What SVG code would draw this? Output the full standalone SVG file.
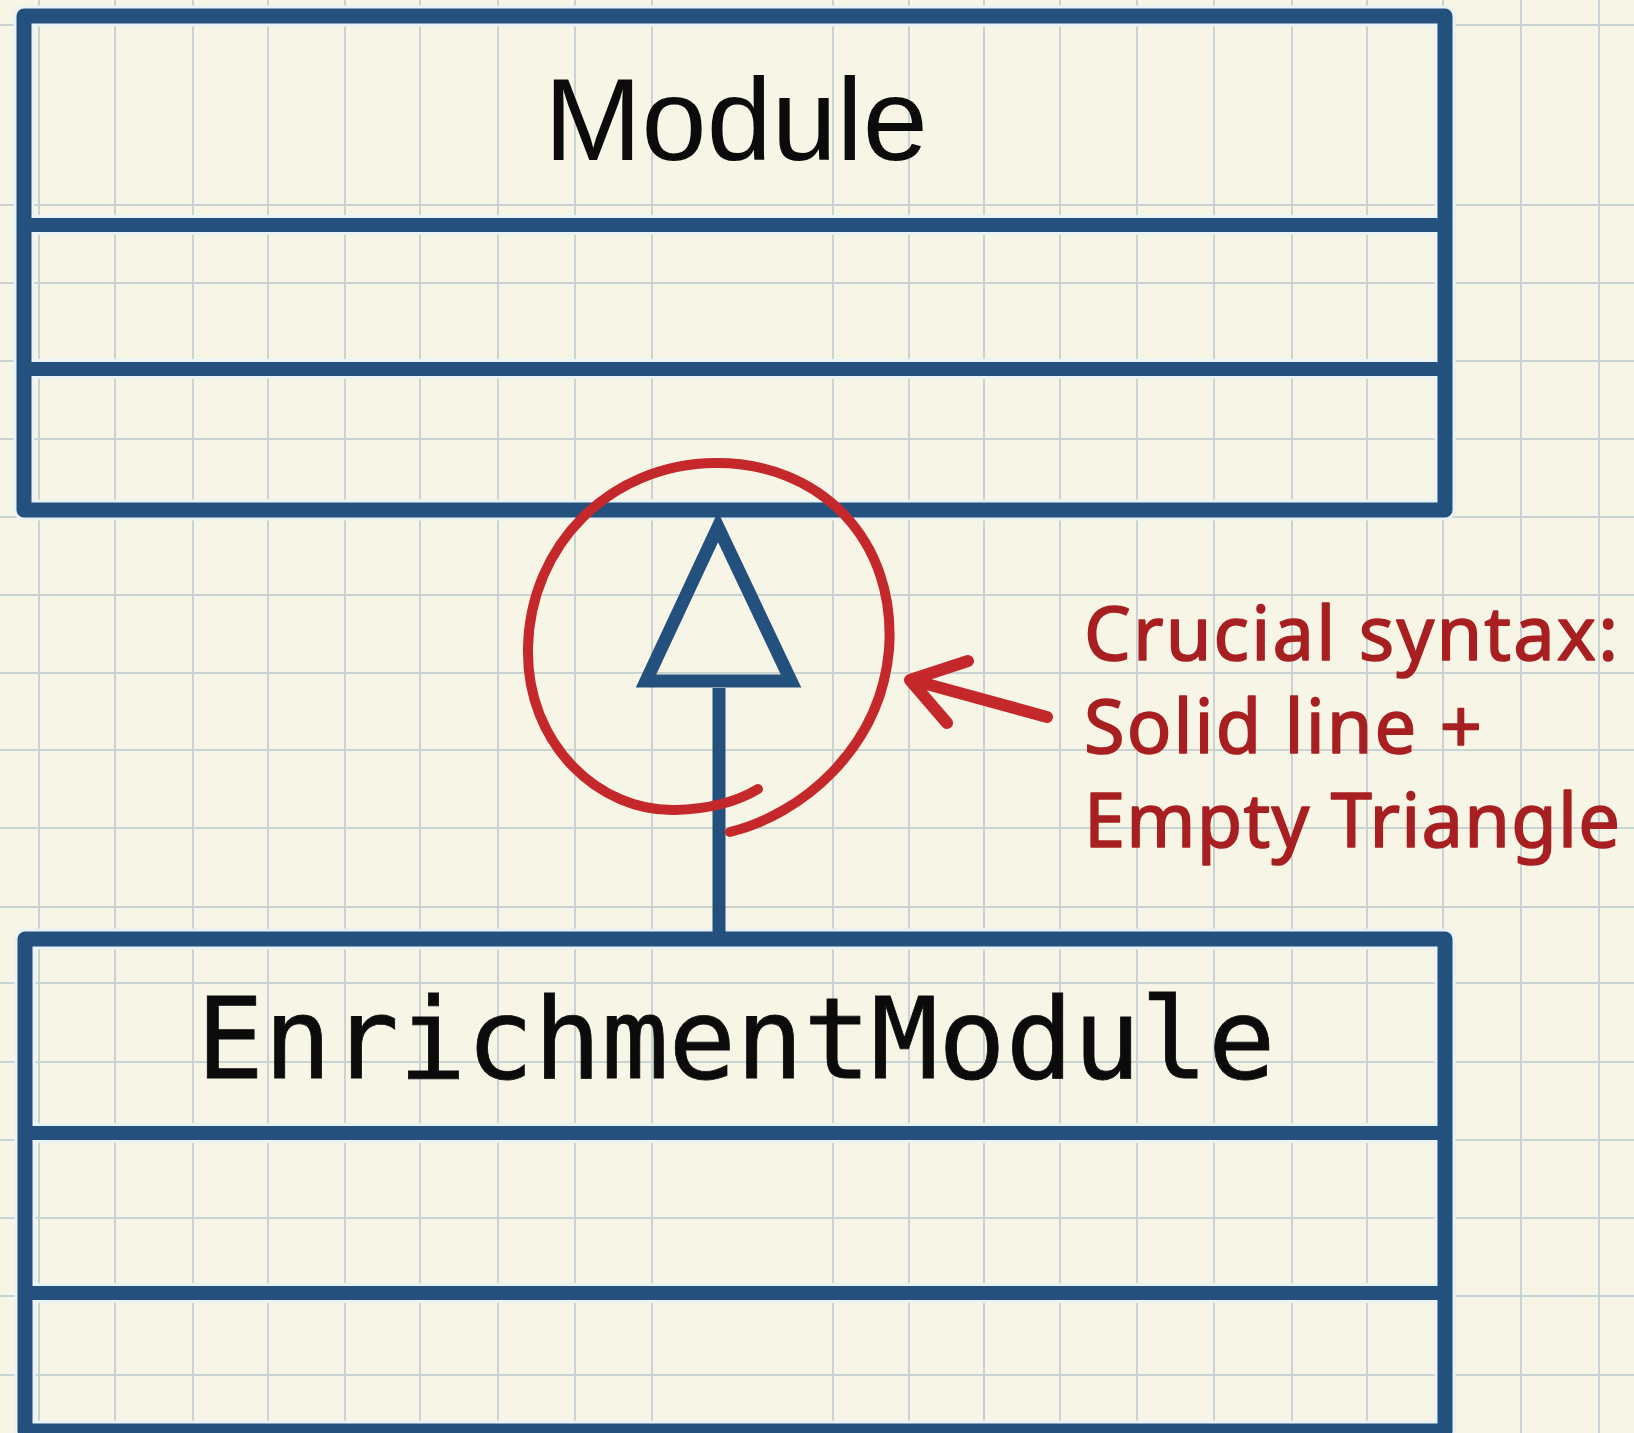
<svg xmlns="http://www.w3.org/2000/svg" width="1634" height="1433" viewBox="0 0 1634 1433">
  <style>
    .grid { stroke: #c9d3d1; stroke-width: 2; fill: none; }
    .halo { fill: none; stroke: #e9f3f5; stroke-width: 21; stroke-linejoin: round; }
    .box { fill: none; stroke: #23507c; stroke-width: 15; stroke-linejoin: round; }
    .sep { stroke: #23507c; stroke-width: 14; }
    .sep-halo { stroke: #e9f3f5; stroke-width: 20; }
    .title { font-family: "Liberation Sans", Arial, sans-serif; fill: #0b0b0b; }
    .mono { font-family: "DejaVu Sans Mono", "Liberation Mono", monospace; fill: #0b0b0b; stroke: #0b0b0b; stroke-width: 0.8; }
    .edge { stroke: #23507c; stroke-width: 13; fill: none; }
    .mark { stroke: #c4282b; fill: none; stroke-linecap: round; stroke-linejoin: round; }
    .note { font-family: "Noto Sans", "DejaVu Sans", sans-serif; font-size: 74px; fill: #a81f22; stroke: #a81f22; stroke-width: 1.6; stroke-linejoin: round; }
  </style>

  <!-- paper -->
  <rect width="1634" height="1433" fill="#f7f5e5"/>
  <path class="grid" d="M39 0V1433 M115 0V1433 M193 0V1433 M268 0V1433 M345 0V1433 M420 0V1433 M498 0V1433 M575 0V1433 M652 0V1433 M833 0V1433 M909 0V1433 M984 0V1433 M1060 0V1433 M1137 0V1433 M1214 0V1433 M1292 0V1433 M1367 0V1433 M1443 0V1433 M1521 0V1433 M1599 0V1433
    M0 25H1634 M0 205H1634 M0 283H1634 M0 361H1634 M0 439H1634 M0 517H1634 M0 595H1634 M0 673H1634 M0 750H1634 M0 828H1634 M0 907H1634 M0 983H1634 M0 1062H1634 M0 1140H1634 M0 1218H1634 M0 1296H1634 M0 1375H1634"/>

  <!-- superclass -->
  <g id="node-module">
    <rect class="halo" x="24" y="16" width="1421" height="494"/>
    <line class="sep-halo" x1="24" y1="225" x2="1445" y2="225"/>
    <line class="sep-halo" x1="24" y1="369" x2="1445" y2="369"/>
    <rect class="box" x="24" y="16" width="1421" height="494"/>
    <line class="sep" x1="24" y1="225" x2="1445" y2="225"/>
    <line class="sep" x1="24" y1="369" x2="1445" y2="369"/>
    <text class="title" x="736" y="160" font-size="117" text-anchor="middle">Module</text>
  </g>

  <!-- subclass -->
  <g id="node-enrichment">
    <rect class="halo" x="25" y="939" width="1420" height="492"/>
    <line class="sep-halo" x1="25" y1="1133" x2="1445" y2="1133"/>
    <line class="sep-halo" x1="25" y1="1293" x2="1445" y2="1293"/>
    <rect class="box" x="25" y="939" width="1420" height="492"/>
    <line class="sep" x1="25" y1="1133" x2="1445" y2="1133"/>
    <line class="sep" x1="25" y1="1293" x2="1445" y2="1293"/>
    <text class="mono" x="736" y="1078" font-size="112" text-anchor="middle">EnrichmentModule</text>
  </g>

  <!-- generalization: solid line with hollow triangle -->
  <g id="connectors">
    <line class="edge" x1="719" y1="688" x2="719" y2="939"/>
    <polygon class="edge" points="718,527 646,681 791,681" stroke-linejoin="miter" fill="#f7f5e5"/>
  </g>

  <!-- red highlight and note -->
  <g id="annotation">
    <path class="mark" stroke-width="10" d="M730 832 C800 815 880 750 889 650 C897 540 820 462 715 463 C610 464 530 545 528 648 C526 745 600 812 675 810 C712 809 740 800 758 789"/>
    <path class="mark" stroke-width="12" d="M1047 717 L912 680 M968 661 L910 680 L947 723"/>
    <text class="note" x="1084" y="660" textLength="534">Crucial syntax:</text>
    <text class="note" x="1084" y="753" textLength="398">Solid line +</text>
    <text class="note" x="1084" y="847" textLength="536">Empty Triangle</text>
  </g>
</svg>
